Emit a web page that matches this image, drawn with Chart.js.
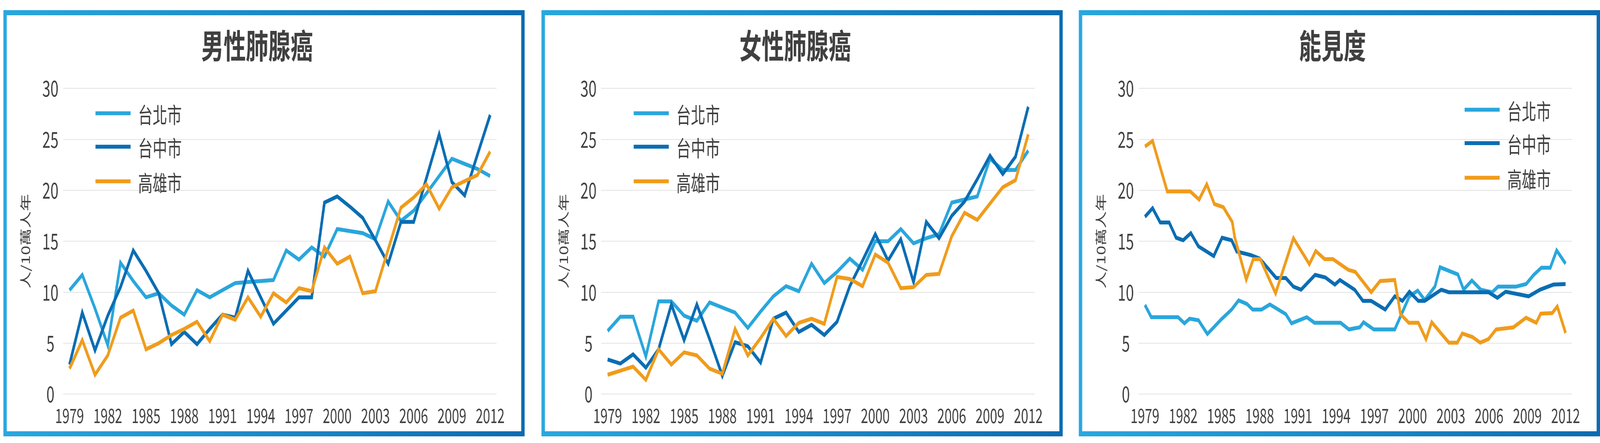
<!DOCTYPE html>
<html>
<head>
    <meta charset="utf-8">
    <title>肺腺癌與能見度</title>
    <script src="https://cdn.jsdelivr.net/npm/chart.js"></script>
    <style>
        html, body { margin: 0; height: 1133px; background: #fff; overflow: hidden; }
        #page { position: absolute; left: 0; top: 0; width: 6158px; height: 1133px; transform-origin: 0 0; }
        .panel {
            position: absolute; top: 26px; width: 2006px; height: 1090px;
            padding: 13px; box-sizing: border-box;
            background: linear-gradient(to right, #29a8df, #0c6bb2);
        }
        .inner { width: 1980px; height: 1064px; background: #fff; }
    </style>
</head>
<body>
    <div id="page">
        <div class="panel" style="left: 13px;"><div class="inner"><canvas id="maleChart" width="1980" height="1064"></canvas></div></div>
        <div class="panel" style="left: 2084px;"><div class="inner"><canvas id="femaleChart" width="1980" height="1064"></canvas></div></div>
        <div class="panel" style="left: 4152px;"><div class="inner"><canvas id="visChart" width="1980" height="1064"></canvas></div></div>
    </div>

    <script>
        // the window can be narrower than the 6158px design: squeeze the page to fit its width
        const fitX = Math.min(1, window.innerWidth / 6158);
        const fitY = Math.min(1, window.innerHeight / 1133);
        document.getElementById("page").style.transform = "scale(" + fitX + "," + fitY + ")";

        // categories and tick labels
        const years = [1979, 1980, 1981, 1982, 1983, 1984, 1985, 1986, 1987, 1988, 1989, 1990,
                       1991, 1992, 1993, 1994, 1995, 1996, 1997, 1998, 1999, 2000, 2001, 2002,
                       2003, 2004, 2005, 2006, 2007, 2008, 2009, 2010, 2011, 2012];
        const tickYears = [1979, 1982, 1985, 1988, 1991, 1994, 1997, 2000, 2003, 2006, 2009, 2012];
        const cities = ["台北市", "台中市", "高雄市"];

        // 男性肺腺癌 (人/10萬人年)
        const maleTaipei    = [10.2, 11.7, 8.4, 4.8, 12.9, 11.1, 9.5, 9.9, 8.7, 7.8, 10.2, 9.5, 10.2, 10.9, 11.0, 11.1, 11.2,
                               14.1, 13.2, 14.4, 13.5, 16.2, 16.0, 15.8, 15.2, 18.9, 17.0, 18.0, 19.7, 21.4, 23.1, 22.6, 22.1, 21.4];
        const maleTaichung  = [2.9, 8.0, 4.3, 7.7, 10.5, 14.1, 12.1, 9.9, 4.9, 6.1, 4.9, 6.4, 7.8, 7.5, 12.1, 9.5, 6.9,
                               8.2, 9.5, 9.5, 18.8, 19.4, 18.4, 17.3, 15.1, 12.8, 16.9, 16.9, 21.2, 25.5, 20.8, 19.5, 23.5, 27.4];
        const maleKaohsiung = [2.5, 5.3, 1.9, 3.8, 7.5, 8.2, 4.4, 5.0, 5.8, 6.4, 7.1, 5.2, 7.8, 7.3, 9.5, 7.6, 9.9,
                               9.0, 10.4, 10.1, 14.4, 12.8, 13.5, 9.9, 10.1, 14.2, 18.3, 19.3, 20.6, 18.2, 20.3, 20.9, 21.5, 23.8];

        // 女性肺腺癌 (人/10萬人年)
        const femaleTaipei    = [6.2, 7.6, 7.6, 3.7, 9.1, 9.1, 7.7, 7.2, 9.0, 8.5, 8.0, 6.5, 8.1, 9.6, 10.6, 10.1, 12.8,
                                 10.9, 12.0, 13.3, 12.2, 15.0, 15.0, 16.2, 14.8, 15.3, 15.7, 18.8, 19.1, 19.4, 23.1, 22.0, 22.0, 23.9];
        const femaleTaichung  = [3.4, 3.0, 3.9, 2.6, 4.4, 8.8, 5.3, 8.8, 5.4, 1.8, 5.1, 4.7, 3.1, 7.4, 8.0, 6.1, 6.8,
                                 5.8, 7.1, 10.6, 13.1, 15.7, 13.1, 15.2, 11.0, 16.9, 15.3, 17.5, 18.9, 21.1, 23.4, 21.6, 23.3, 28.2];
        const femaleKaohsiung = [1.9, 2.3, 2.7, 1.4, 4.4, 2.9, 4.1, 3.8, 2.5, 2.0, 6.4, 3.8, 5.5, 7.4, 5.7, 7.0, 7.4,
                                 6.9, 11.5, 11.3, 10.6, 13.7, 12.9, 10.4, 10.5, 11.7, 11.8, 15.5, 17.8, 17.1, 18.7, 20.3, 21.0, 25.5];

        // 能見度: each series has its own (year, value) points
        const visTaipeiX = [1979, 1979.5, 1981.6, 1982.1, 1982.5, 1983.2, 1983.9, 1985.0, 1985.8, 1986.35,
                            1987.0, 1987.45, 1988.15, 1988.8, 1990.05, 1990.5, 1991.7, 1992.3, 1994.35, 1995.0,
                            1995.85, 1996.15, 1996.95, 1998.6, 1999.75, 2000.4, 2000.95, 2001.75, 2002.15, 2003.55,
                            2004.0, 2004.65, 2005.35, 2006.25, 2006.7, 2008.1, 2008.9, 2009.5, 2010.1, 2010.8,
                            2011.3, 2012];
        const visTaipeiY = [8.75, 7.55, 7.55, 6.95, 7.4, 7.25, 5.9, 7.35, 8.3, 9.2,
                            8.85, 8.3, 8.3, 8.8, 7.85, 6.95, 7.55, 7.0, 7.0, 6.35,
                            6.55, 7.05, 6.35, 6.35, 9.6, 10.15, 9.25, 10.55, 12.45, 11.75,
                            10.25, 11.15, 10.25, 10.0, 10.55, 10.55, 10.8, 11.7, 12.4, 12.4,
                            14.1, 12.8];
        const visTaichungX = [1979, 1979.6, 1980.2, 1980.9, 1981.45, 1982.0, 1982.6, 1983.2, 1984.4, 1985.05,
                              1985.8, 1986.2, 1987.3, 1988.0, 1989.3, 1990.05, 1990.65, 1991.25, 1992.35, 1993.15,
                              1993.9, 1994.3, 1995.45, 1996.1, 1996.75, 1997.85, 1998.6, 1999.2, 1999.75, 2000.45,
                              2000.95, 2002.25, 2002.85, 2005.95, 2006.65, 2007.3, 2009.1, 2010.0, 2011.05, 2012];
        const visTaichungY = [17.4, 18.25, 16.85, 16.85, 15.35, 15.1, 15.8, 14.5, 13.55, 15.35,
                              15.1, 14.0, 13.65, 13.3, 11.4, 11.4, 10.55, 10.25, 11.7, 11.45,
                              10.75, 11.2, 10.25, 9.15, 9.15, 8.3, 9.6, 9.15, 10.05, 9.15,
                              9.15, 10.25, 10.0, 10.0, 9.45, 10.05, 9.6, 10.25, 10.75, 10.8];
        const visKaohsiungX = [1979, 1979.6, 1980.75, 1982.55, 1983.25, 1983.85, 1984.45, 1985.15, 1985.85, 1986.05,
                               1986.95, 1987.5, 1988.05, 1989.25, 1990.65, 1991.9, 1992.4, 1993.1, 1993.75, 1994.95,
                               1995.5, 1996.75, 1997.45, 1998.6, 1999.05, 1999.7, 2000.45, 2001.05, 2001.5, 2002.85,
                               2003.5, 2003.9, 2004.7, 2005.3, 2005.95, 2006.55, 2007.9, 2008.9, 2009.7, 2010.05,
                               2010.95, 2011.35, 2012];
        const visKaohsiungY = [24.3, 24.85, 19.9, 19.9, 19.1, 20.6, 18.65, 18.35, 16.9, 15.35,
                               11.25, 13.25, 13.25, 9.9, 15.3, 12.75, 14.05, 13.25, 13.25, 12.2,
                               12.0, 10.0, 11.1, 11.2, 7.85, 7.0, 7.0, 5.4, 7.05, 5.05,
                               5.05, 5.95, 5.6, 5.05, 5.4, 6.35, 6.55, 7.5, 7.0, 7.9,
                               7.95, 8.6, 6.0];

        const FONT = '"Noto Sans CJK TC", "Noto Sans", sans-serif';
        const TEXT = "#404040";
        const colors = ["#2aa6dc", "#0a6db3", "#f09c1c"];
        const legendRows = [0, 85.5, 174];

        // legend drawn inside the plot like the original (line sample + city name)
        const cityLegend = {
            id: "cityLegend",
            afterDraw(chart, args, opts) {
                const ctx = chart.ctx;
                const area = chart.chartArea;
                ctx.save();
                ctx.font = "56px " + FONT;
                ctx.textBaseline = "middle";
                ctx.textAlign = "left";
                chart.data.datasets.forEach((ds, i) => {
                    const x = area.left + opts.left;
                    const y = area.top + opts.top + legendRows[i];
                    ctx.fillStyle = ds.borderColor;
                    ctx.fillRect(x, y - 5, 135, 10);
                    ctx.fillStyle = TEXT;
                    ctx.fillText(ds.label, x + 164, y + 4);
                });
                ctx.restore();
            }
        };

        function makeDatasets(series) {
            return series.map((data, i) => ({
                label: cities[i],
                data: data,
                borderColor: colors[i],
                backgroundColor: colors[i],
                borderWidth: 10,
                pointRadius: 0,
                tension: 0,
                fill: false,
                order: 3 - i
            }));
        }

        function makeChart(id, title, datasets, xScale, legendPos) {
            const ctx = document.getElementById(id).getContext("2d");
            return new Chart(ctx, {
                type: "line",
                data: { labels: years, datasets: datasets },
                plugins: [cityLegend],
                options: {
                    responsive: false,
                    devicePixelRatio: 1,
                    animation: false,
                    events: [],
                    layout: { padding: { left: 42, right: 95, top: 0, bottom: 0 } },
                    plugins: {
                        legend: { display: false },
                        tooltip: { enabled: false },
                        title: {
                            display: true,
                            text: title,
                            color: TEXT,
                            font: { family: FONT, size: 86, weight: "bold" },
                            padding: { top: 27, bottom: 57 }
                        },
                        cityLegend: legendPos
                    },
                    scales: {
                        x: xScale,
                        y: {
                            min: 0,
                            max: 30,
                            ticks: {
                                stepSize: 5,
                                padding: 18,
                                crossAlign: "center",
                                color: TEXT,
                                font: { family: FONT, size: 56 }
                            },
                            grid: { color: "#d9d9d9", lineWidth: 1.5, drawTicks: false },
                            border: { display: false },
                            title: {
                                display: true,
                                text: "人/10萬人年",
                                color: TEXT,
                                font: { family: FONT, size: 44 },
                                padding: { top: 4, bottom: 4 }
                            },
                            afterFit: s => { s.width = 175; }
                        }
                    }
                }
            });
        }

        const xTicks = { autoSkip: false, maxRotation: 0, padding: 25, color: TEXT, font: { family: FONT, size: 50 } };

        // yearly category axis for the two cancer charts
        const categoryAxis = {
            type: "category",
            offset: true,
            grid: { display: false, drawTicks: false },
            border: { display: false },
            ticks: Object.assign({}, xTicks, {
                callback: (v, i) => tickYears.includes(years[i]) ? String(years[i]) : ""
            }),
            afterFit: s => { s.height = 95; }
        };

        // numeric year axis for the visibility chart (points fall between years)
        const linearAxis = {
            type: "linear",
            min: 1978.5,
            max: 2012.5,
            grid: { display: false, drawTicks: false },
            border: { display: false },
            afterBuildTicks: s => { s.ticks = tickYears.map(v => ({ value: v })); },
            ticks: Object.assign({}, xTicks, { callback: v => String(v) }),
            afterFit: s => { s.height = 95; }
        };

        const toPoints = (xs, ys) => xs.map((x, i) => ({ x: x, y: ys[i] }));

        makeChart("maleChart", "男性肺腺癌",
            makeDatasets([maleTaipei, maleTaichung, maleKaohsiung]),
            categoryAxis, { left: 124.5, top: 63.5 });

        makeChart("femaleChart", "女性肺腺癌",
            makeDatasets([femaleTaipei, femaleTaichung, femaleKaohsiung]),
            categoryAxis, { left: 125, top: 63.5 });

        makeChart("visChart", "能見度",
            makeDatasets([
                toPoints(visTaipeiX, visTaipeiY),
                toPoints(visTaichungX, visTaichungY),
                toPoints(visKaohsiungX, visKaohsiungY)
            ]),
            linearAxis, { left: 1255, top: 54.4 });
    </script>
</body>
</html>
